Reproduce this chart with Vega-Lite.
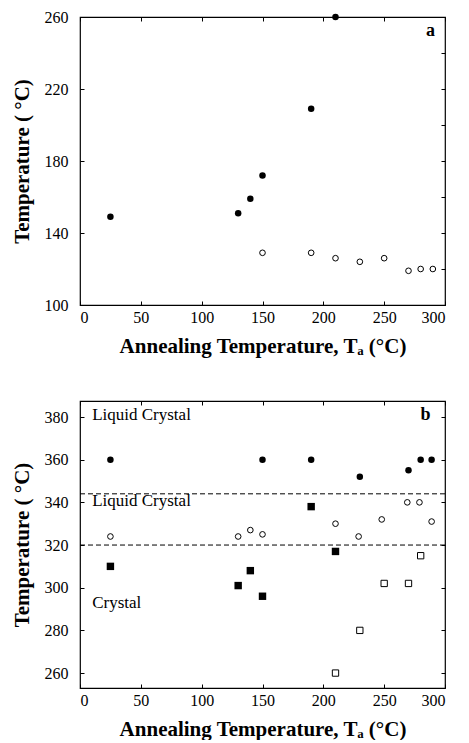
{
  "$schema": "https://vega.github.io/schema/vega-lite/v6.json",
  "background": "white",
  "padding": {"left": 10, "top": 8, "right": 0, "bottom": 0},
  "spacing": 42,
  "config": {
    "font": "Times New Roman, Liberation Serif, serif",
    "view": {"stroke": "black", "strokeWidth": 1.2},
    "text": {"font": "Times New Roman, Liberation Serif, serif"},
    "axis": {
      "domain": false,
      "grid": false,
      "ticks": true,
      "tickSize": -4,
      "tickColor": "black",
      "tickWidth": 1,
      "labelFont": "Times New Roman, Liberation Serif, serif",
      "labelFontSize": 16,
      "labelColor": "black",
      "labelPadding": 8,
      "titleFont": "Times New Roman, Liberation Serif, serif",
      "titleFontSize": 21,
      "titleFontWeight": "bold",
      "titleColor": "black"
    },
    "axisY": {"labelPadding": 16}
  },
  "datasets": {
    "a": [
      {"ta": 25, "temp": 149, "kind": "filled"},
      {"ta": 130, "temp": 151, "kind": "filled"},
      {"ta": 140, "temp": 159, "kind": "filled"},
      {"ta": 150, "temp": 172, "kind": "filled"},
      {"ta": 190, "temp": 209, "kind": "filled"},
      {"ta": 210, "temp": 260, "kind": "filled"},
      {"ta": 150, "temp": 129, "kind": "open"},
      {"ta": 190, "temp": 129, "kind": "open"},
      {"ta": 210, "temp": 126, "kind": "open"},
      {"ta": 230, "temp": 124, "kind": "open"},
      {"ta": 250, "temp": 126, "kind": "open"},
      {"ta": 270, "temp": 119, "kind": "open"},
      {"ta": 280, "temp": 120, "kind": "open"},
      {"ta": 290, "temp": 120, "kind": "open"}
    ],
    "b": [
      {"ta": 25, "temp": 360, "kind": "circle_filled"},
      {"ta": 150, "temp": 360, "kind": "circle_filled"},
      {"ta": 190, "temp": 360, "kind": "circle_filled"},
      {"ta": 230, "temp": 352, "kind": "circle_filled"},
      {"ta": 270, "temp": 355, "kind": "circle_filled"},
      {"ta": 280, "temp": 360, "kind": "circle_filled"},
      {"ta": 289, "temp": 360, "kind": "circle_filled"},
      {"ta": 25, "temp": 324, "kind": "circle_open"},
      {"ta": 130, "temp": 324, "kind": "circle_open"},
      {"ta": 140, "temp": 327, "kind": "circle_open"},
      {"ta": 150, "temp": 325, "kind": "circle_open"},
      {"ta": 210, "temp": 330, "kind": "circle_open"},
      {"ta": 229, "temp": 324, "kind": "circle_open"},
      {"ta": 248, "temp": 332, "kind": "circle_open"},
      {"ta": 269, "temp": 340, "kind": "circle_open"},
      {"ta": 279, "temp": 340, "kind": "circle_open"},
      {"ta": 289, "temp": 331, "kind": "circle_open"},
      {"ta": 25, "temp": 310, "kind": "square_filled"},
      {"ta": 130, "temp": 301, "kind": "square_filled"},
      {"ta": 140, "temp": 308, "kind": "square_filled"},
      {"ta": 150, "temp": 296, "kind": "square_filled"},
      {"ta": 190, "temp": 338, "kind": "square_filled"},
      {"ta": 210, "temp": 317, "kind": "square_filled"},
      {"ta": 210, "temp": 260, "kind": "square_open"},
      {"ta": 230, "temp": 280, "kind": "square_open"},
      {"ta": 250, "temp": 302, "kind": "square_open"},
      {"ta": 270, "temp": 302, "kind": "square_open"},
      {"ta": 280, "temp": 315, "kind": "square_open"}
    ]
  },
  "vconcat": [
    {
      "width": 365,
      "height": 288,
      "resolve": {"axis": {"x": "independent", "y": "independent"}},
      "layer": [
        {
          "layer": [
            {"data": {"name": "a"},
             "transform": [{"filter": "datum.kind == 'filled'"}],
             "mark": {"type": "point", "shape": "circle", "filled": true, "color": "black", "size": 42, "opacity": 1},
             "encoding": {
               "x": {"field": "ta", "type": "quantitative", "scale": {"domain": [0, 300], "nice": false},
                     "axis": {"values": [0, 50, 100, 150, 200, 250, 300], "title": "Annealing Temperature, Tₐ (°C)", "titlePadding": 10}},
               "y": {"field": "temp", "type": "quantitative", "scale": {"domain": [100, 260], "nice": false, "zero": false},
                     "axis": {"values": [100, 120, 140, 160, 180, 200, 220, 240, 260], "labelExpr": "datum.value % 40 == 0 ? '' : datum.label", "title": "Temperature ( °C)", "titlePadding": 12}}
             }},
            {"data": {"name": "a"},
             "transform": [{"filter": "datum.kind == 'open'"}],
             "mark": {"type": "point", "shape": "circle", "filled": false, "color": "black", "size": 32, "strokeWidth": 1, "opacity": 1},
             "encoding": {
               "x": {"field": "ta", "type": "quantitative"},
               "y": {"field": "temp", "type": "quantitative"}
             }},
            {"data": {"values": [{}]},
             "mark": {"type": "text", "text": "a", "fontSize": 18, "fontWeight": "bold", "align": "center", "baseline": "middle", "color": "black"},
             "encoding": {"x": {"datum": 288, "type": "quantitative"}, "y": {"datum": 252, "type": "quantitative"}}}
          ]
        },
        {
          "data": {"values": [{}]},
          "mark": {"type": "point", "opacity": 0},
          "encoding": {
            "x": {"datum": 0, "type": "quantitative", "scale": {"domain": [0, 300], "nice": false},
                  "axis": {"orient": "top", "values": [0, 50, 100, 150, 200, 250, 300], "labels": false, "title": null}},
            "y": {"datum": 100, "type": "quantitative", "scale": {"domain": [100, 260], "nice": false, "zero": false},
                  "axis": {"orient": "right", "values": [100, 120, 140, 160, 180, 200, 220, 240, 260], "labels": false, "title": null}}
          }
        }
      ]
    },
    {
      "width": 365,
      "height": 287,
      "resolve": {"axis": {"x": "independent", "y": "independent"}},
      "layer": [
        {
          "layer": [
            {"data": {"name": "b"},
             "transform": [{"filter": "datum.kind == 'circle_filled'"}],
             "mark": {"type": "point", "shape": "circle", "filled": true, "color": "black", "size": 42, "opacity": 1},
             "encoding": {
               "x": {"field": "ta", "type": "quantitative", "scale": {"domain": [0, 300], "nice": false},
                     "axis": {"values": [0, 50, 100, 150, 200, 250, 300], "title": "Annealing Temperature, Tₐ (°C)", "titlePadding": 10}},
               "y": {"field": "temp", "type": "quantitative", "scale": {"domain": [253, 387.5], "nice": false, "zero": false},
                     "axis": {"values": [260, 280, 300, 320, 340, 360, 380], "title": "Temperature ( °C)", "titlePadding": 12}}
             }},
            {"data": {"name": "b"},
             "transform": [{"filter": "datum.kind == 'circle_open'"}],
             "mark": {"type": "point", "shape": "circle", "filled": false, "color": "black", "size": 32, "strokeWidth": 1, "opacity": 1},
             "encoding": {"x": {"field": "ta", "type": "quantitative"}, "y": {"field": "temp", "type": "quantitative"}}},
            {"data": {"name": "b"},
             "transform": [{"filter": "datum.kind == 'square_filled'"}],
             "mark": {"type": "point", "shape": "square", "filled": true, "color": "black", "size": 55, "opacity": 1},
             "encoding": {"x": {"field": "ta", "type": "quantitative"}, "y": {"field": "temp", "type": "quantitative"}}},
            {"data": {"name": "b"},
             "transform": [{"filter": "datum.kind == 'square_open'"}],
             "mark": {"type": "point", "shape": "square", "filled": false, "color": "black", "size": 40, "strokeWidth": 1, "opacity": 1},
             "encoding": {"x": {"field": "ta", "type": "quantitative"}, "y": {"field": "temp", "type": "quantitative"}}},
            {"data": {"values": [{}]},
             "mark": {"type": "rule", "strokeDash": [5, 3], "color": "black", "strokeWidth": 1},
             "encoding": {"y": {"datum": 344, "type": "quantitative"}}},
            {"data": {"values": [{}]},
             "mark": {"type": "rule", "strokeDash": [5, 3], "color": "black", "strokeWidth": 1},
             "encoding": {"y": {"datum": 320, "type": "quantitative"}}},
            {"data": {"values": [{}]},
             "mark": {"type": "text", "text": "Liquid Crystal", "fontSize": 17, "align": "left", "baseline": "middle", "color": "black"},
             "encoding": {"x": {"datum": 10, "type": "quantitative"}, "y": {"datum": 381, "type": "quantitative"}}},
            {"data": {"values": [{}]},
             "mark": {"type": "text", "text": "Liquid Crystal", "fontSize": 17, "align": "left", "baseline": "middle", "color": "black"},
             "encoding": {"x": {"datum": 10, "type": "quantitative"}, "y": {"datum": 340.5, "type": "quantitative"}}},
            {"data": {"values": [{}]},
             "mark": {"type": "text", "text": "Crystal", "fontSize": 17, "align": "left", "baseline": "middle", "color": "black"},
             "encoding": {"x": {"datum": 10, "type": "quantitative"}, "y": {"datum": 293, "type": "quantitative"}}},
            {"data": {"values": [{}]},
             "mark": {"type": "text", "text": "b", "fontSize": 18, "fontWeight": "bold", "align": "center", "baseline": "middle", "color": "black"},
             "encoding": {"x": {"datum": 284, "type": "quantitative"}, "y": {"datum": 381, "type": "quantitative"}}}
          ]
        },
        {
          "data": {"values": [{}]},
          "mark": {"type": "point", "opacity": 0},
          "encoding": {
            "x": {"datum": 0, "type": "quantitative", "scale": {"domain": [0, 300], "nice": false},
                  "axis": {"orient": "top", "values": [0, 50, 100, 150, 200, 250, 300], "labels": false, "title": null}},
            "y": {"datum": 260, "type": "quantitative", "scale": {"domain": [253, 387.5], "nice": false, "zero": false},
                  "axis": {"orient": "right", "values": [260, 280, 300, 320, 340, 360, 380], "labels": false, "title": null}}
          }
        }
      ]
    }
  ]
}
